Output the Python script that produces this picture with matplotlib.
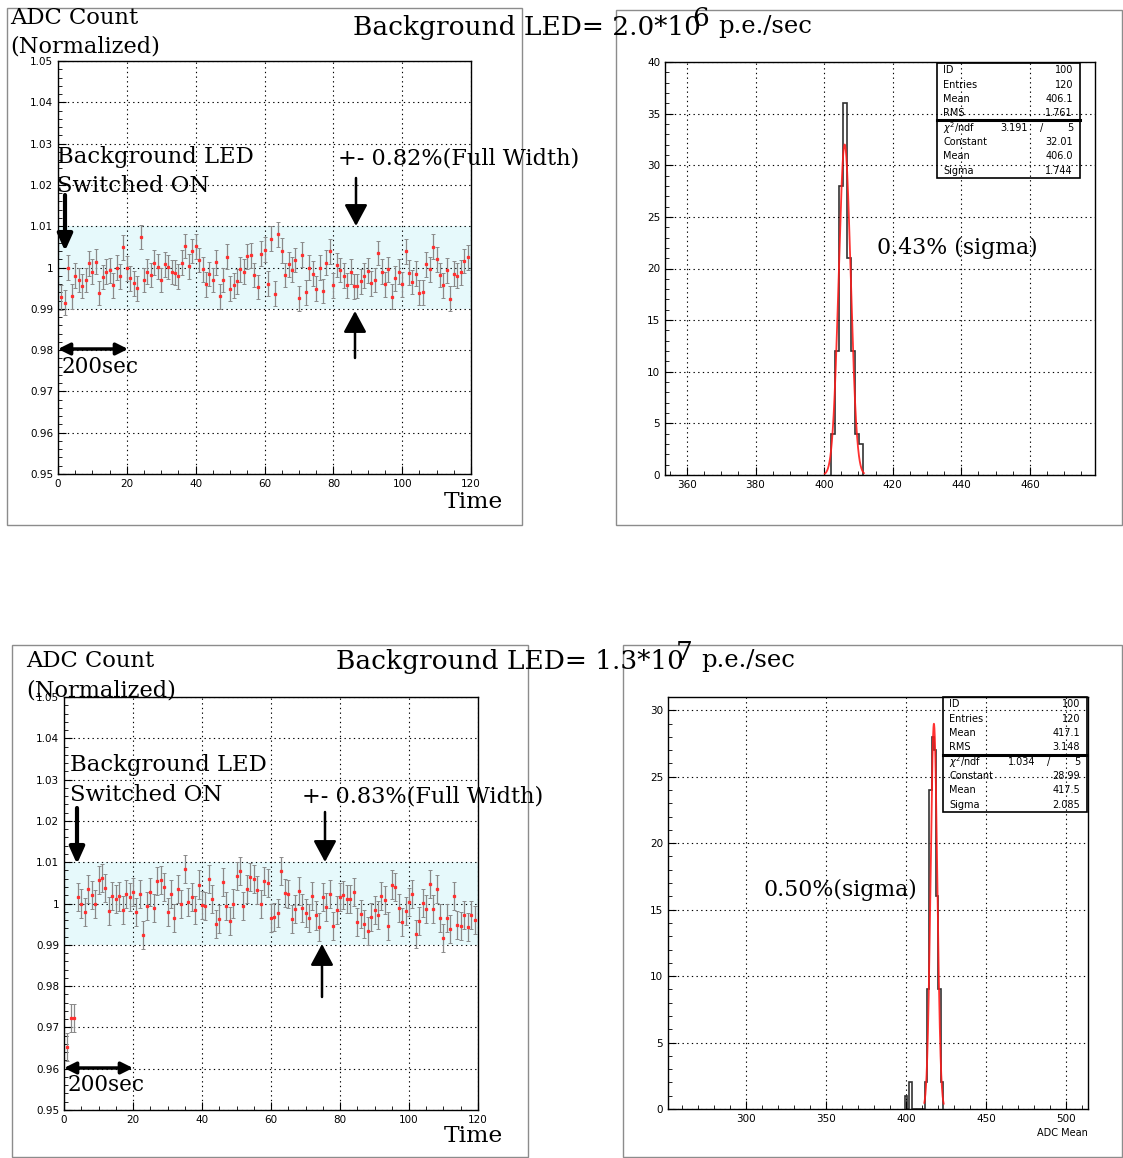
import numpy as np
import matplotlib.pyplot as plt
from matplotlib.patches import Rectangle, FancyArrowPatch
from matplotlib.lines import Line2D

# ---- data ----
time_top = np.arange(1, 120)
adc_top = [0.9928, 0.9915, 1.0000, 0.9930, 0.9980, 0.9970, 0.9955, 0.9970, 1.0010, 0.9990,
           1.0014, 0.9938, 0.9977, 0.9990, 0.9993, 0.9957, 1.0000, 0.9979, 1.0049, 0.9998,
           0.9974, 0.9962, 0.9950, 1.0074, 0.9970, 0.9990, 0.9982, 1.0012, 1.0002, 0.9970,
           1.0008, 1.0001, 0.9989, 0.9987, 0.9979, 1.0012, 1.0052, 1.0003, 1.0040, 1.0051,
           1.0018, 0.9996, 0.9959, 0.9984, 0.9970, 1.0013, 0.9930, 0.9970, 1.0026, 0.9949,
           0.9957, 0.9967, 0.9996, 0.9990, 1.0027, 1.0030, 0.9982, 0.9953, 1.0033, 1.0043,
           0.9961, 1.0070, 0.9937, 1.0080, 1.0041, 0.9982, 1.0008, 0.9995, 1.0018, 0.9925,
           1.0031, 0.9940, 1.0000, 0.9985, 0.9949, 1.0000, 0.9943, 1.0012, 1.0039, 0.9957,
           1.0006, 0.9994, 0.9980, 0.9957, 0.9990, 0.9954, 0.9955, 0.9967, 0.9980, 0.9992,
           0.9962, 0.9970, 1.0035, 0.9990, 0.9959, 0.9996, 0.9929, 0.9974, 0.9990, 0.9959,
           1.0039, 0.9987, 0.9965, 0.9985, 0.9939, 0.9940, 1.0008, 0.9996, 1.0050, 1.0020,
           0.9982, 0.9957, 0.9993, 0.9924, 0.9985, 0.9980, 0.9988, 1.0016, 1.0025]
err_top = 0.0030

time_bot = np.arange(1, 120)
adc_bot = [0.9652, 0.9722, 0.9722, 1.0016, 1.0000, 0.9980, 1.0036, 1.0020, 0.9998, 1.0058,
           1.0062, 1.0038, 0.9982, 1.0018, 1.0010, 1.0017, 0.9984, 1.0023, 1.0015, 1.0028,
           0.9980, 1.0024, 0.9923, 0.9994, 1.0028, 0.9989, 1.0054, 1.0057, 1.0040, 0.9979,
           1.0022, 0.9964, 1.0036, 0.9998, 1.0083, 1.0004, 1.0015, 0.9985, 1.0046, 0.9996,
           0.9994, 1.0060, 1.0011, 0.9950, 0.9962, 1.0051, 0.9994, 0.9958, 1.0000, 1.0067,
           1.0078, 0.9994, 1.0036, 1.0065, 1.0060, 1.0033, 0.9998, 1.0054, 1.0050, 0.9966,
           0.9968, 0.9976, 1.0079, 1.0026, 1.0023, 0.9963, 0.9986, 1.0031, 0.9989, 0.9977,
           0.9965, 1.0018, 0.9971, 0.9943, 1.0015, 0.9992, 1.0023, 0.9946, 0.9985, 1.0016,
           1.0020, 1.0010, 1.0012, 1.0028, 0.9955, 0.9975, 0.9950, 0.9934, 0.9967, 0.9984,
           0.9973, 1.0019, 1.0008, 0.9945, 1.0046, 1.0040, 0.9990, 0.9955, 0.9981, 1.0003,
           1.0022, 0.9927, 0.9958, 1.0001, 0.9987, 1.0048, 0.9987, 1.0036, 0.9964, 0.9917,
           0.9965, 0.9939, 1.0018, 0.9947, 0.9946, 0.9972, 0.9944, 0.9973, 0.9959]
err_bot = 0.0034

hist_top_start = 401.9
hist_top_width = 1.19
hist_top_counts = [4, 12, 28, 36, 21, 12, 4, 3]
fit_top = (32.01, 406.0, 1.744)
fit_top_range = (400.2, 411.6)

hist_bot_start = 399.3
hist_bot_width = 1.4
hist_bot_counts = [1, 0, 2, 0, 0, 0, 0, 0, 0, 2, 9, 24, 28, 27, 16, 9, 2]
fit_bot = (28.99, 417.5, 2.085)
fit_bot_range = (411.5, 423.6)

stats_top = [("ID", "100"), ("Entries", "120"), ("Mean", "406.1"), ("RMS", "1.761")]
chi_top = ("3.191", "5")
fitpar_top = [("Constant", "32.01"), ("Mean", "406.0"), ("Sigma", "1.744")]
stats_bot = [("ID", "100"), ("Entries", "120"), ("Mean", "417.1"), ("RMS", "3.148")]
chi_bot = ("1.034", "5")
fitpar_bot = [("Constant", "28.99"), ("Mean", "417.5"), ("Sigma", "2.085")]

W, H = 1123, 1158
fig = plt.figure(figsize=(W / 100, H / 100), dpi=100)
SERIF = "DejaVu Serif"
SANS = "DejaVu Sans"


def rect(l, t, r, b):
    return [l / W, 1 - b / H, (r - l) / W, (b - t) / H]


def put(x, y, s, size, ha="left", va="center", family=SERIF, **kw):
    fig.text(x / W, 1 - y / H, s, fontsize=size, ha=ha, va=va, family=family, **kw)


def arrow(x0, y0, x1, y1, lw, hl, hw, both=False):
    st = "<|-|>" if both else "-|>"
    a = FancyArrowPatch((x0 / W, 1 - y0 / H), (x1 / W, 1 - y1 / H),
                        transform=fig.transFigure,
                        arrowstyle=f"{st},head_length={hl},head_width={hw}",
                        mutation_scale=1, lw=lw, color="black",
                        shrinkA=0, shrinkB=0)
    fig.add_artist(a)


def hline(x0, x1, y, lw, color="black"):
    fig.add_artist(Line2D([x0 / W, x1 / W], [1 - y / H, 1 - y / H], lw=lw, color=color))


def pad(l, t, r, b):
    fig.add_artist(Rectangle((l / W, 1 - b / H), (r - l) / W, (b - t) / H,
                             fill=False, lw=1, ec="#8c8c8c", transform=fig.transFigure))


def style_axes(ax):
    for s in ax.spines.values():
        s.set_linewidth(1)
    ax.tick_params(which="both", direction="in", labelsize=7.5, top=False, right=False)
    ax.tick_params(which="major", length=6)
    ax.tick_params(which="minor", length=3)
    ax.grid(True, which="major", color="black", lw=0.8, linestyle=(0, (1.2, 3)))


def stats_box(l, t, r, b, sep, rows, chi, pars):
    fig.add_artist(Rectangle((l / W, 1 - b / H), (r - l) / W, (b - t) / H,
                             fill=False, lw=1.2, ec="black", transform=fig.transFigure))
    hline(l, r, sep, 2.2)
    step = (b - t) / 8.0
    lines = rows + [None] + pars
    for i, item in enumerate(lines):
        yc = t + step * (i + 0.5)
        if item is None:
            put(l + 6, yc, r"$\chi^2$/ndf", 7, family=SANS)
            put(r - 52, yc, chi[0], 7, ha="right", family=SANS)
            put(r - 40, yc, "/", 7, family=SANS)
            put(r - 7, yc, chi[1], 7, ha="right", family=SANS)
        else:
            put(l + 6, yc, item[0], 7, family=SANS)
            put(r - 7, yc, item[1], 7, ha="right", family=SANS)


def gauss(x, c, m, s):
    return c * np.exp(-0.5 * ((x - m) / s) ** 2)


# ---- pads ----
pad(7, 8, 522, 525)
pad(616, 10, 1122, 525)
pad(12, 645, 528, 1157)
pad(623, 645, 1122, 1157)

# ---- time plots ----
for rct, tx, ty, err in [((58, 61, 471, 474), time_top, adc_top, err_top),
                         ((64, 697, 478, 1110), time_bot, adc_bot, err_bot)]:
    ax = fig.add_axes(rect(*rct))
    ax.axhspan(0.99, 1.01, color="#e6f9fb", lw=0)
    ax.errorbar(tx, ty, yerr=err, fmt="s", ms=1.4, mfc="#ff3030", mec="#ff3030",
                ecolor="#8a8a8a", elinewidth=0.9, capsize=1.2, capthick=0.7)
    ax.set_xlim(0, 120)
    ax.set_ylim(0.95, 1.05)
    ax.set_xticks(np.arange(0, 121, 20))
    ax.set_xticks(np.arange(0, 121, 5), minor=True)
    ax.set_yticks(np.arange(0.95, 1.0501, 0.01))
    ax.set_yticks(np.arange(0.95, 1.0501, 0.002), minor=True)
    ax.set_yticklabels(["0.95", "0.96", "0.97", "0.98", "0.99", "1", "1.01",
                        "1.02", "1.03", "1.04", "1.05"])
    style_axes(ax)

# ---- histograms ----
for rct, start, width, counts, fit, frange, xl, yl, xt, xm, ym in [
        ((665, 62, 1095, 475), hist_top_start, hist_top_width, hist_top_counts,
         fit_top, fit_top_range, (353.6, 479), (0, 40), np.arange(360, 461, 20),
         np.arange(355, 480, 5), np.arange(0, 41, 1)),
        ((668, 697, 1088, 1109), hist_bot_start, hist_bot_width, hist_bot_counts,
         fit_bot, fit_bot_range, (251.3, 513.8), (0, 31), np.arange(300, 501, 50),
         np.arange(260, 514, 10), np.arange(0, 31, 1))]:
    ax = fig.add_axes(rect(*rct))
    edges = start + width * np.arange(len(counts) + 1)
    ax.stairs(counts, edges, color="#333333", lw=1.2, baseline=0)
    xf = np.linspace(frange[0], frange[1], 200)
    ax.plot(xf, gauss(xf, *fit), color="#ff1a1a", lw=1.3, alpha=0.9)
    ax.set_xlim(*xl)
    ax.set_ylim(*yl)
    ax.set_xticks(xt)
    ax.set_xticks(xm, minor=True)
    ax.set_yticks(np.arange(yl[0], yl[1] + 0.1, 5))
    ax.set_yticks(ym, minor=True)
    style_axes(ax)

stats_box(937, 63, 1080, 178, 120, stats_top, chi_top, fitpar_top)
stats_box(943, 697, 1087, 812, 755, stats_bot, chi_bot, fitpar_bot)

# ---- text, top ----
put(10, 18, "ADC Count", 16.3)
put(10, 47, "(Normalized)", 16.2)
put(353, 27, "Background LED= 2.0*10", 19)
put(701, 18, "6", 19, ha="center")
put(812, 27, "p.e./sec", 17.5, ha="right")
put(57, 157, "Background LED", 16.4)
put(57, 186, "Switched ON", 16.4)
put(338, 158, "+- 0.82%(Full Width)", 16.1)
put(503, 502, "Time", 16.8, ha="right")
put(62, 367, "200sec", 15.5)
put(877, 248, "0.43% (sigma)", 15.8)

arrow(65, 195, 65, 251, 3, 10, 4.5)
arrow(356, 178, 356, 226, 1.8, 13, 7)
arrow(355, 358, 355, 311, 1.8, 13, 7)
arrow(58, 349, 128, 349, 2.5, 7, 3.5, both=True)

# ---- text, bottom ----
put(26, 661, "ADC Count", 16.3)
put(26, 690, "(Normalized)", 16.2)
put(336, 661, "Background LED= 1.3*10", 19)
put(684, 652, "7", 19, ha="center")
put(795, 661, "p.e./sec", 17.5, ha="right")
put(70, 765, "Background LED", 16.4)
put(70, 795, "Switched ON", 16.4)
put(302, 796, "+- 0.83%(Full Width)", 16.1)
put(503, 1136, "Time", 16.8, ha="right")
put(68, 1085, "200sec", 15.5)
put(764, 890, "0.50%(sigma)", 15.8)
put(1088, 1133, "ADC Mean", 7, ha="right", family=SANS)

arrow(77, 808, 77, 864, 3, 10, 4.5)
arrow(325, 812, 325, 862, 1.8, 13, 7)
arrow(322, 997, 322, 944, 1.8, 13, 7)
arrow(64, 1068, 133, 1068, 2.5, 7, 3.5, both=True)

fig.savefig("out.png", dpi=100)
